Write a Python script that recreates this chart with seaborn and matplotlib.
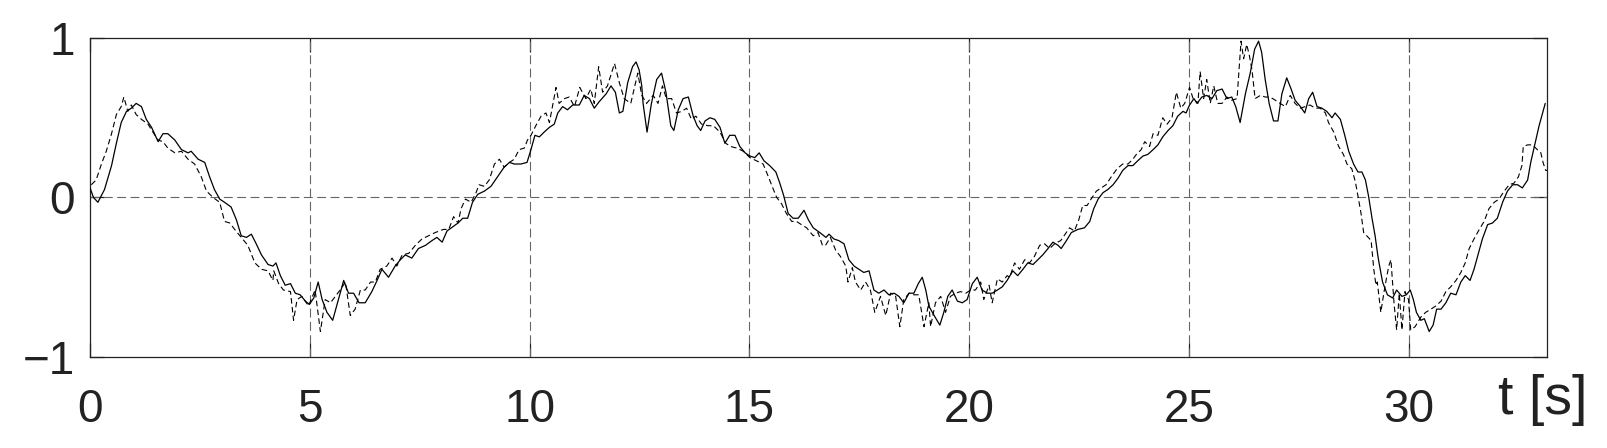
import matplotlib
matplotlib.use("Agg")
import matplotlib.pyplot as plt
import pandas as pd
import numpy as np
import seaborn as sns

# solid line (t [s], value)
t_solid = [0.0, 0.08, 0.18, 0.33, 0.49, 0.6, 0.71, 0.83, 0.94, 1.05, 1.17, 1.28, 1.4, 1.55, 1.66, 1.77, 1.93,
           2.08, 2.23, 2.3, 2.46, 2.61, 2.72, 2.83, 2.95, 3.06, 3.21, 3.33, 3.44, 3.56, 3.67, 3.78, 3.9, 4.05,
           4.16, 4.23, 4.33, 4.44, 4.56, 4.67, 4.78, 4.9, 4.99, 5.09, 5.19, 5.28, 5.39, 5.52, 5.65, 5.77, 5.88,
           5.995, 6.12, 6.26, 6.41, 6.53, 6.64, 6.79, 6.94, 7.06, 7.17, 7.32, 7.47, 7.63, 7.78, 7.89, 8.01,
           8.12, 8.27, 8.37, 8.48, 8.59, 8.7, 8.82, 8.97, 9.12, 9.27, 9.42, 9.54, 9.65, 9.8, 9.94, 10.03, 10.12,
           10.22, 10.33, 10.45, 10.56, 10.64, 10.75, 10.86, 10.98, 11.13, 11.24, 11.36, 11.47, 11.58, 11.74,
           11.85, 11.95, 12.04, 12.12, 12.23, 12.34, 12.42, 12.49, 12.55, 12.58, 12.67, 12.77, 12.89, 13.0,
           13.1, 13.21, 13.28, 13.38, 13.49, 13.61, 13.72, 13.81, 13.89, 13.99, 14.1, 14.21, 14.33, 14.44,
           14.55, 14.67, 14.78, 14.9, 15.01, 15.12, 15.22, 15.33, 15.46, 15.6, 15.69, 15.78, 15.88, 15.99,
           16.11, 16.24, 16.34, 16.45, 16.6, 16.74, 16.81, 16.92, 17.03, 17.15, 17.26, 17.38, 17.49, 17.6,
           17.72, 17.83, 17.94, 18.06, 18.17, 18.29, 18.4, 18.51, 18.63, 18.74, 18.84, 18.93, 19.01, 19.08,
           19.2, 19.33, 19.42, 19.51, 19.61, 19.73, 19.84, 19.95, 20.07, 20.18, 20.29, 20.41, 20.52, 20.64,
           20.75, 20.86, 20.99, 21.1, 21.22, 21.33, 21.45, 21.56, 21.67, 21.79, 21.9, 22.02, 22.09, 22.21,
           22.32, 22.47, 22.62, 22.74, 22.83, 22.93, 23.04, 23.15, 23.27, 23.38, 23.49, 23.61, 23.72, 23.83,
           23.95, 24.06, 24.18, 24.29, 24.4, 24.52, 24.63, 24.74, 24.86, 24.93, 25.01, 25.11, 25.18, 25.29,
           25.4, 25.52, 25.63, 25.75, 25.86, 25.97, 26.06, 26.16, 26.28, 26.39, 26.49, 26.58, 26.65, 26.73,
           26.82, 26.92, 27.02, 27.11, 27.22, 27.32, 27.41, 27.53, 27.63, 27.72, 27.81, 27.91, 28.02, 28.13,
           28.25, 28.32, 28.44, 28.54, 28.63, 28.74, 28.84, 28.93, 29.01, 29.08, 29.16, 29.23, 29.29, 29.32,
           29.4, 29.51, 29.63, 29.72, 29.84, 29.94, 30.03, 30.1, 30.17, 30.27, 30.35, 30.46, 30.55, 30.63,
           30.73, 30.84, 30.95, 31.07, 31.18, 31.28, 31.39, 31.48, 31.58, 31.67, 31.79, 31.9, 32.01, 32.13,
           32.24, 32.36, 32.47, 32.58, 32.7, 32.77, 32.87, 32.96, 33.04, 33.1]
y_solid = [0.06, 0.0, -0.03, 0.05, 0.2, 0.34, 0.47, 0.54, 0.56, 0.59, 0.57, 0.49, 0.44, 0.35, 0.40, 0.40, 0.36,
           0.30, 0.28, 0.29, 0.24, 0.22, 0.13, 0.05, -0.01, -0.03, -0.06, -0.14, -0.24, -0.25, -0.23, -0.29,
           -0.36, -0.42, -0.43, -0.41, -0.49, -0.55, -0.54, -0.6, -0.61, -0.65, -0.67, -0.63, -0.53, -0.64,
           -0.72, -0.77, -0.64, -0.52, -0.6, -0.6, -0.66, -0.66, -0.59, -0.52, -0.45, -0.5, -0.43, -0.39,
           -0.36, -0.38, -0.32, -0.3, -0.27, -0.25, -0.28, -0.21, -0.18, -0.16, -0.13, -0.13, -0.03, 0.02,
           0.04, 0.07, 0.13, 0.19, 0.22, 0.21, 0.21, 0.22, 0.30, 0.39, 0.38, 0.41, 0.44, 0.46, 0.53, 0.57,
           0.55, 0.58, 0.58, 0.64, 0.62, 0.56, 0.60, 0.65, 0.70, 0.66, 0.53, 0.54, 0.72, 0.82, 0.85, 0.80,
           0.70, 0.59, 0.41, 0.59, 0.74, 0.78, 0.66, 0.45, 0.42, 0.55, 0.62, 0.63, 0.51, 0.45, 0.42, 0.48,
           0.50, 0.49, 0.44, 0.34, 0.39, 0.39, 0.32, 0.28, 0.26, 0.25, 0.28, 0.23, 0.20, 0.16, 0.09, 0.01,
           -0.10, -0.13, -0.13, -0.08, -0.14, -0.19, -0.22, -0.25, -0.23, -0.26, -0.27, -0.29, -0.39, -0.43,
           -0.45, -0.47, -0.46, -0.58, -0.60, -0.58, -0.61, -0.60, -0.62, -0.66, -0.60, -0.60, -0.54, -0.50,
           -0.58, -0.68, -0.74, -0.80, -0.72, -0.62, -0.58, -0.65, -0.66, -0.64, -0.54, -0.50, -0.58, -0.60,
           -0.60, -0.58, -0.56, -0.52, -0.46, -0.49, -0.45, -0.41, -0.42, -0.39, -0.36, -0.32, -0.28, -0.30,
           -0.32, -0.27, -0.22, -0.20, -0.19, -0.15, -0.07, -0.01, 0.03, 0.05, 0.08, 0.12, 0.17, 0.20, 0.20,
           0.23, 0.26, 0.27, 0.30, 0.33, 0.38, 0.42, 0.45, 0.51, 0.54, 0.53, 0.58, 0.62, 0.59, 0.63, 0.64,
           0.62, 0.67, 0.68, 0.62, 0.63, 0.57, 0.47, 0.65, 0.78, 0.93, 0.98, 0.91, 0.74, 0.59, 0.48, 0.48,
           0.65, 0.75, 0.68, 0.61, 0.57, 0.53, 0.62, 0.66, 0.57, 0.56, 0.54, 0.50, 0.53, 0.49, 0.39, 0.29,
           0.21, 0.16, 0.16, 0.11, 0.01, -0.13, -0.24, -0.36, -0.41, -0.53, -0.61, -0.63, -0.58, -0.62, -0.61,
           -0.58, -0.64, -0.72, -0.77, -0.76, -0.84, -0.80, -0.70, -0.70, -0.66, -0.60, -0.61, -0.53, -0.49,
           -0.52, -0.45, -0.35, -0.26, -0.17, -0.16, -0.13, -0.03, 0.04, 0.08, 0.08, 0.06, 0.11, 0.22, 0.34,
           0.45, 0.53, 0.59]

# dashed line (t [s], value)
t_dashed = [0.03, 0.14, 0.26, 0.37, 0.49, 0.6, 0.71, 0.77, 0.86, 0.94, 1.05, 1.17, 1.32, 1.43, 1.55, 1.66, 1.77,
            1.93, 2.08, 2.23, 2.38, 2.53, 2.65, 2.8, 2.95, 3.06, 3.18, 3.29, 3.44, 3.59, 3.75, 3.9, 4.05, 4.16,
            4.18, 4.29, 4.4, 4.56, 4.63, 4.71, 4.82, 4.97, 5.12, 5.24, 5.35, 5.47, 5.58, 5.69, 5.81, 5.92, 6.03,
            6.15, 6.26, 6.38, 6.49, 6.6, 6.75, 6.87, 6.98, 7.1, 7.25, 7.4, 7.55, 7.7, 7.85, 8.04, 8.16, 8.27,
            8.37, 8.44, 8.54, 8.67, 8.78, 8.85, 8.97, 9.08, 9.2, 9.31, 9.42, 9.54, 9.65, 9.76, 9.88, 9.95, 10.03,
            10.14, 10.26, 10.37, 10.45, 10.6, 10.67, 10.79, 10.9, 11.02, 11.14, 11.28, 11.39, 11.47, 11.57,
            11.66, 11.77, 11.93, 12.04, 12.15, 12.3, 12.46, 12.55, 12.66, 12.81, 12.92, 13.02, 13.11, 13.23,
            13.34, 13.46, 13.57, 13.68, 13.78, 13.91, 14.06, 14.18, 14.33, 14.46, 14.57, 14.71, 14.86, 15.01,
            15.16, 15.31, 15.43, 15.53, 15.62, 15.73, 15.84, 15.96, 16.07, 16.18, 16.3, 16.45, 16.56, 16.66,
            16.73, 16.84, 16.96, 17.07, 17.19, 17.24, 17.34, 17.41, 17.53, 17.64, 17.75, 17.85, 17.98, 18.1,
            18.21, 18.32, 18.42, 18.51, 18.63, 18.74, 18.85, 18.97, 19.08, 19.12, 19.23, 19.35, 19.46, 19.57,
            19.69, 19.8, 19.92, 20.03, 20.14, 20.26, 20.33, 20.45, 20.52, 20.64, 20.75, 20.86, 20.92, 21.03,
            21.14, 21.26, 21.37, 21.48, 21.6, 21.71, 21.83, 21.94, 22.08, 22.18, 22.28, 22.39, 22.49, 22.58,
            22.68, 22.77, 22.89, 23.0, 23.11, 23.23, 23.36, 23.49, 23.61, 23.72, 23.8, 23.91, 23.99, 24.1,
            24.18, 24.29, 24.4, 24.5, 24.61, 24.71, 24.81, 24.9, 25.01, 25.09, 25.2, 25.25, 25.33, 25.4, 25.48,
            25.56, 25.65, 25.75, 25.86, 25.97, 26.09, 26.14, 26.18, 26.24, 26.31, 26.37, 26.43, 26.5, 26.62,
            26.73, 26.84, 26.96, 27.07, 27.19, 27.3, 27.41, 27.53, 27.64, 27.75, 27.87, 27.98, 28.1, 28.17,
            28.29, 28.4, 28.51, 28.59, 28.7, 28.78, 28.84, 28.91, 28.97, 29.04, 29.14, 29.2, 29.25, 29.28,
            29.36, 29.44, 29.54, 29.59, 29.66, 29.72, 29.78, 29.84, 29.91, 29.99, 30.04, 30.14, 30.27, 30.38,
            30.5, 30.61, 30.73, 30.84, 30.95, 31.07, 31.18, 31.28, 31.37, 31.48, 31.6, 31.71, 31.82, 31.94,
            32.05, 32.14, 32.28, 32.39, 32.49, 32.57, 32.6, 32.7, 32.81, 32.92, 33.0, 33.05, 33.11, 33.15]
y_dashed = [0.08, 0.11, 0.21, 0.29, 0.40, 0.52, 0.57, 0.63, 0.54, 0.58, 0.52, 0.49, 0.46, 0.41, 0.36, 0.35, 0.31,
            0.28, 0.29, 0.24, 0.21, 0.13, 0.04, 0.0, -0.03, -0.15, -0.16, -0.20, -0.25, -0.30, -0.41, -0.45,
            -0.46, -0.52, -0.46, -0.54, -0.58, -0.59, -0.77, -0.64, -0.62, -0.68, -0.58, -0.84, -0.64, -0.66,
            -0.62, -0.58, -0.53, -0.74, -0.70, -0.58, -0.58, -0.53, -0.53, -0.45, -0.43, -0.38, -0.43, -0.36,
            -0.35, -0.30, -0.26, -0.24, -0.22, -0.20, -0.20, -0.12, -0.16, -0.07, -0.01, -0.03, 0.03, 0.08,
            0.07, 0.11, 0.21, 0.24, 0.19, 0.22, 0.24, 0.30, 0.31, 0.36, 0.39, 0.45, 0.51, 0.53, 0.47, 0.69,
            0.59, 0.62, 0.63, 0.57, 0.69, 0.62, 0.68, 0.59, 0.82, 0.66, 0.70, 0.84, 0.72, 0.62, 0.59, 0.78,
            0.64, 0.59, 0.64, 0.59, 0.70, 0.62, 0.62, 0.53, 0.54, 0.56, 0.49, 0.51, 0.46, 0.45, 0.45, 0.41,
            0.34, 0.32, 0.31, 0.29, 0.25, 0.23, 0.21, 0.13, 0.06, 0.0, -0.04, -0.10, -0.15, -0.15, -0.17,
            -0.19, -0.24, -0.22, -0.30, -0.30, -0.25, -0.33, -0.37, -0.43, -0.53, -0.44, -0.53, -0.58, -0.53,
            -0.58, -0.72, -0.62, -0.74, -0.60, -0.61, -0.81, -0.64, -0.60, -0.61, -0.61, -0.81, -0.66, -0.81,
            -0.66, -0.62, -0.72, -0.62, -0.60, -0.59, -0.60, -0.58, -0.58, -0.53, -0.64, -0.55, -0.66, -0.51,
            -0.53, -0.49, -0.50, -0.41, -0.45, -0.39, -0.41, -0.37, -0.30, -0.29, -0.32, -0.29, -0.27, -0.23,
            -0.19, -0.21, -0.14, -0.05, -0.05, -0.01, 0.04, 0.06, 0.08, 0.13, 0.18, 0.21, 0.21, 0.24, 0.27,
            0.30, 0.35, 0.32, 0.40, 0.39, 0.50, 0.46, 0.50, 0.66, 0.56, 0.59, 0.69, 0.62, 0.59, 0.79, 0.62,
            0.74, 0.59, 0.70, 0.59, 0.59, 0.63, 0.61, 0.62, 0.82, 0.98, 0.87, 0.96, 0.89, 0.80, 0.62, 0.64,
            0.63, 0.63, 0.61, 0.59, 0.57, 0.64, 0.59, 0.56, 0.57, 0.58, 0.56, 0.56, 0.53, 0.47, 0.41, 0.32,
            0.27, 0.21, 0.18, 0.10, 0.01, -0.10, -0.22, -0.24, -0.27, -0.45, -0.55, -0.53, -0.72, -0.58, -0.43,
            -0.39, -0.66, -0.83, -0.60, -0.83, -0.59, -0.64, -0.83, -0.81, -0.75, -0.72, -0.70, -0.68, -0.65,
            -0.59, -0.56, -0.52, -0.47, -0.41, -0.32, -0.26, -0.20, -0.15, -0.07, -0.03, -0.01, 0.03, 0.08,
            0.09, 0.13, 0.20, 0.32, 0.33, 0.33, 0.30, 0.28, 0.22, 0.17, 0.17]

x_ticks = [0, 5, 10, 15, 20, 25, 30]
y_ticks = [-1, 0, 1]
y_tick_labels = ["\u22121", "0", "1"]

df_solid = pd.DataFrame({"t": t_solid, "y": y_solid})
df_dashed = pd.DataFrame({"t": t_dashed, "y": y_dashed})

sns.set_style("white")
plt.rcParams["font.family"] = ["Liberation Sans", "DejaVu Sans"]

fig = plt.figure(figsize=(16.08, 4.48), dpi=100)
ax = fig.add_axes([90 / 1608, 91 / 448, 1457 / 1608, 319 / 448])

# grid lines (gray, dashed)
for xv in x_ticks[1:]:
    ax.axvline(xv, color="#666666", lw=0.8, ls=(0, (8, 4)), zorder=1)
ax.axhline(0, color="#666666", lw=0.8, ls=(0, (8, 4)), zorder=1)

sns.lineplot(data=df_dashed, x="t", y="y", ax=ax, color="black", lw=0.8,
             linestyle=(0, (5, 3)), estimator=None, sort=False, zorder=3)
sns.lineplot(data=df_solid, x="t", y="y", ax=ax, color="black", lw=0.9,
             estimator=None, sort=False, zorder=4)

ax.set_xlim(0, 33.14)
ax.set_ylim(-1, 1)
ax.set_xticks(x_ticks)
ax.set_yticks(y_ticks)
ax.set_yticklabels(y_tick_labels)
ax.set_xlabel("")
ax.set_ylabel("")
ax.tick_params(axis="both", direction="in", length=10, width=0.9, color="#222222",
               labelsize=33, labelcolor="#222222", top=True, right=True, bottom=True, left=True)
ax.tick_params(axis="x", pad=22)
ax.tick_params(axis="y", pad=11)
for s in ax.spines.values():
    s.set_color("#222222")
    s.set_linewidth(0.9)

fig.text(1498 / 1608, 1 - 400 / 448, "t [s]", fontsize=40, color="#222222", va="center", ha="left")

fig.savefig("out.png", dpi=100)
